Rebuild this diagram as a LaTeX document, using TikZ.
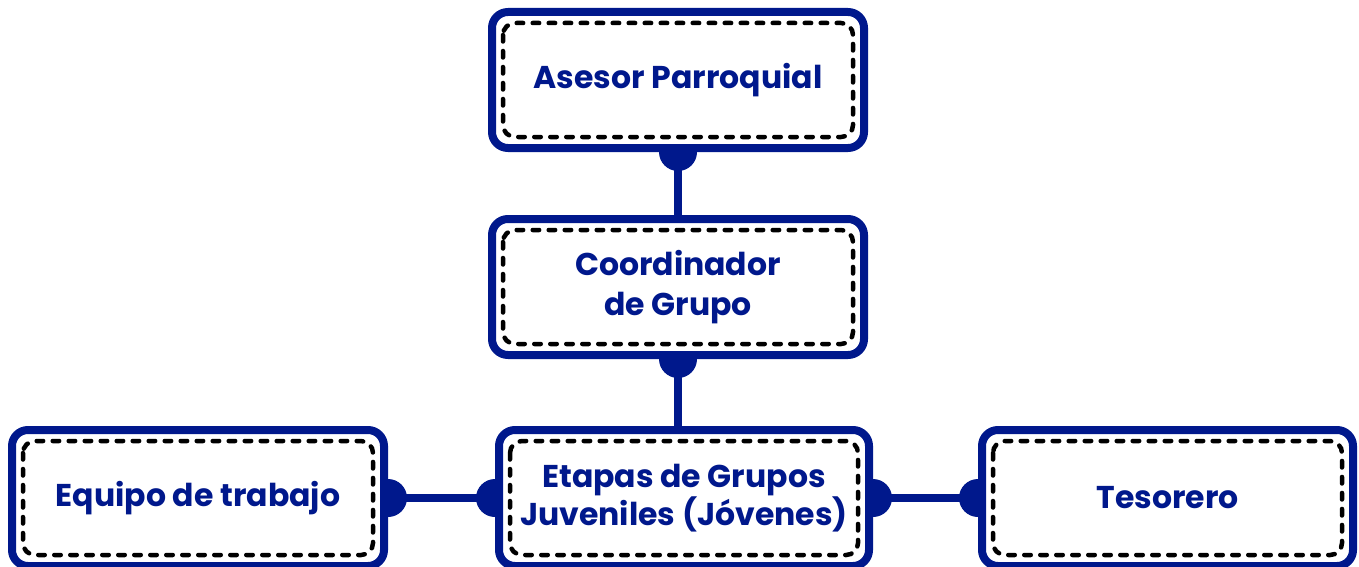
\documentclass[tikz,border=0pt]{standalone}
\usepackage{fontspec}
\setmainfont{Poppins}
\usetikzlibrary{backgrounds}

\definecolor{navy}{HTML}{00188C}

\tikzset{
  rolebox/.style={draw=navy, line width=8pt, fill=white, rounded corners=16pt,
    minimum width=372pt, minimum height=136pt, align=center, text=navy,
    font=\fontsize{31.5}{40}\selectfont\bfseries},
  stitch/.style={draw=black, line width=4.5pt, line cap=round,
    dash pattern=on 6.5pt off 9.5pt, rounded corners=12pt},
  link/.style={draw=navy, line width=8pt},
  knob/.style={fill=navy}
}

\begin{document}
\begin{tikzpicture}[x=1pt,y=-1pt]
    \useasboundingbox (0,0) rectangle (1359,567);

    % Boxes
    \node[rolebox] (asesor) at (678,80) {Asesor Parroquial};
    \node[rolebox] (coord) at (678,287) {Coordinador\\de Grupo};
    \node[rolebox, minimum width=370pt, font=\fontsize{31.5}{36}\selectfont\bfseries]
        (etapas) at (684,498) {Etapas de Grupos\\Juveniles (Jóvenes)};
    \node[rolebox] (equipo) at (198,498) {Equipo de trabajo};
    \node[rolebox, minimum width=371pt] (tesorero) at (1167.5,498) {Tesorero};

    % Dashed inner border
    \foreach \n in {asesor,coord,etapas,equipo,tesorero}
        \draw[stitch] ([shift={(15,15)}]\n.north west) rectangle ([shift={(-15,-15)}]\n.south east);

    % Connectors
    \begin{scope}[on background layer]
        \draw[link] (asesor.south) -- (coord.north);
        \draw[link] (coord.south) -- (coord.south |- etapas.north);
        \draw[link] (equipo.east) -- (etapas.west);
        \draw[link] (etapas.east) -- (tesorero.west);
        \foreach \p in {asesor.south,coord.south,equipo.east,etapas.west,etapas.east,tesorero.west}
            \fill[knob] (\p) circle (19pt);
    \end{scope}
\end{tikzpicture}
\end{document}
